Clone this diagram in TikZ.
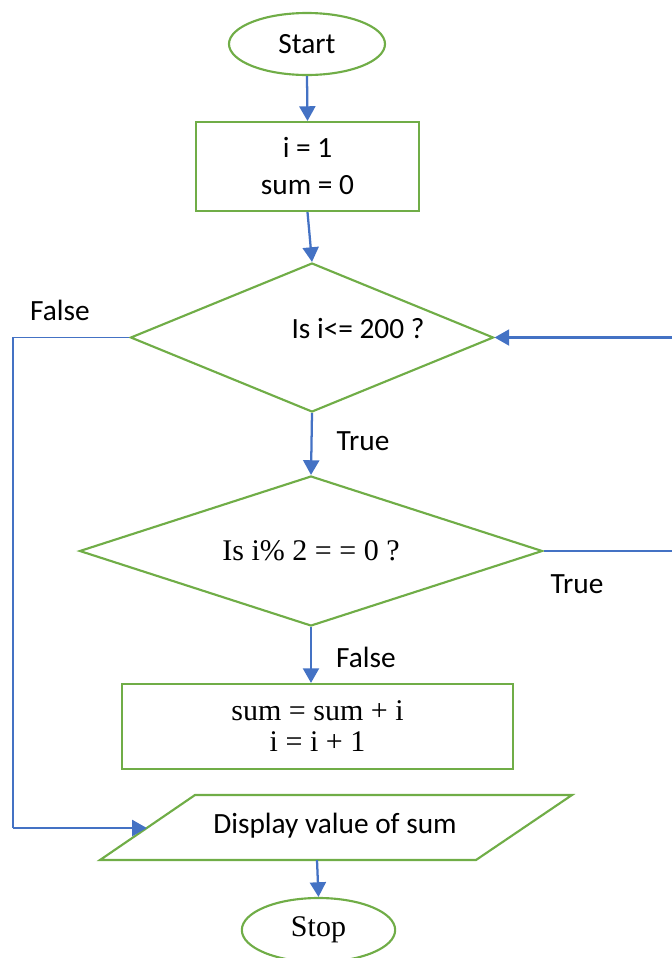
\documentclass[tikz,border=0pt]{standalone}
\usepackage{fontspec}
\setmainfont{Liberation Serif}
\newfontfamily\calibri{Carlito}
\usetikzlibrary{shapes.geometric,arrows.meta}
\definecolor{shgreen}{HTML}{70AD47}
\definecolor{lnblue}{HTML}{4472C4}
\begin{document}
\begin{tikzpicture}[x=0.75pt,y=-0.75pt,
  shapeline/.style={draw=shgreen,line width=1.6pt},
  term/.style={shapeline,ellipse,inner sep=0pt},
  procbox/.style={shapeline,rectangle,inner sep=0pt,align=center},
  decision/.style={shapeline,diamond,inner sep=0pt,aspect=2.5},
  cal/.style={font=\calibri\fontsize{22}{27.75}\selectfont},
  tms/.style={font=\fontsize{22.5}{23.25}\selectfont},
  flow/.style={draw=lnblue,line width=1.7pt,-{Triangle[length=11pt,width=12pt]}},
  thinflow/.style={draw=lnblue,line width=0.9pt},
]
\useasboundingbox (0,0) rectangle (672,958);

% shapes
\node[term,cal,minimum width=117pt,minimum height=46.5pt] (start) at (307,44) {Start};
\node[procbox,cal,minimum width=167.25pt,minimum height=66.75pt] (init) at (307.5,166.5) {i = 1\\ sum = 0};
\node[decision,minimum width=272.25pt,minimum height=111.75pt] (d1) at (312,337.5) {};
\node[cal] (d1txt) at (358,329) {Is i<= 200 ?};
\node[decision,tms,minimum width=347.25pt,minimum height=112.5pt] (d2) at (311,551) {Is i\% 2 = = 0 ?};
\node[procbox,tms,minimum width=293.25pt,minimum height=63.75pt] (upd) at (317.5,726.5) {sum = sum + i\\ i = i + 1};
\coordinate (p1) at (195,795);
\coordinate (p2) at (572,795);
\coordinate (p3) at (476,860);
\coordinate (p4) at (100,860);
\draw[shapeline] (p1) -- (p2) -- (p3) -- (p4) -- cycle;
\node[cal] (disp) at (335,826) {Display value of sum};
\node[term,tms,minimum width=115pt,minimum height=48pt] (stop) at (318.5,930) {Stop};

% connectors
\draw[flow] (start.south) -- (init.north);
\draw[flow] (init.south) -- (d1.north);
\draw[flow] (d1.south) -- (d2.north);
\draw[flow] (d2.south) -- (d2.south |- upd.north);
\coordinate (dispbot) at (317,860);
\draw[flow] (dispbot) -- (stop.north);

\coordinate (lc1) at (13,337.5);
\coordinate (lc2) at (13,828);
\coordinate (lin) at (146.8,828);
\draw[thinflow] (d1.west) -- (lc1) -- (lc2);
\draw[flow] (lc2) -- (lin);

\coordinate (rc2) at (676,551);
\coordinate (rc1) at (676,337.5);
\draw[thinflow] (d2.east) -- (rc2) -- (rc1);
\draw[flow] (rc1) -- (d1.east);

% labels
\node[cal] (lf1) at (60,310) {False};
\node[cal] (lt1) at (363,441) {True};
\node[cal] (lt2) at (577,584) {True};
\node[cal] (lf2) at (366,657) {False};
\end{tikzpicture}
\end{document}
